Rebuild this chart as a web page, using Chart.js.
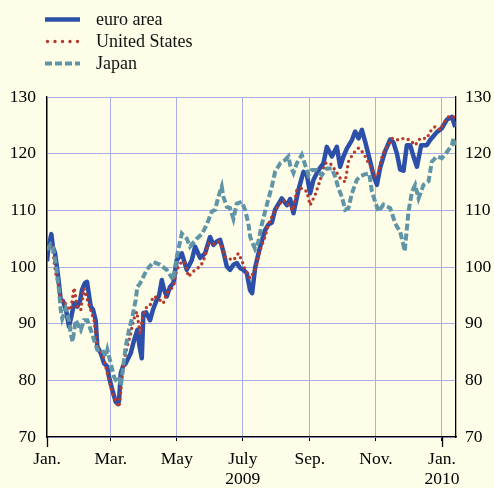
<!DOCTYPE html>
<html>
<head>
<meta charset="utf-8">
<script src="https://cdn.jsdelivr.net/npm/chart.js@4.4.1/dist/chart.umd.min.js"></script>
<style>
html,body{margin:0;padding:0;background:#fefde8;}
#wrap{width:494px;height:488px;position:relative;}
</style>
</head>
<body>
<div id="wrap"><canvas id="c" width="494" height="488"></canvas></div>
<script>
// Series names
const seriesNames = ['euro area', 'United States', 'Japan'];

// x values are days since 1 January 2009
const euroDays = [0,1.4,4,5.5,7.4,9.5,11.1,12.7,14.8,17.6,20.3,22.2,25,28,30.5,32.4,35.1,37,40.4,42.5,45,46.5,49.7,52.7,55.5,57.3,60.4,63.5,65.7,66.6,68.2,70.3,72.8,77.4,80.5,83.5,85.5,87.6,89.1,91.5,95.2,98,101.4,103.6,106.1,108.2,110.7,113.7,116.8,119.9,124.6,129.2,133.8,136.9,141.5,146.1,150.7,153.8,156.9,160,163,166.2,169.2,172.3,175.4,178.5,181.5,184.7,187.7,189.6,192.3,197,201.6,204.6,207.8,210.8,217,221.7,224.7,227.8,232.4,237,240.2,243.2,246.3,250.9,255.5,258.6,263.3,267.9,270.9,274,277.1,281.8,284.8,287.9,291,294.1,298.7,301.7,304.9,307.9,312.6,317.2,320.2,323.4,326.4,329.5,332.6,335.7,338.7,341.9,345.8,351.1,354.1,360.3,365,369.6,374.2,377.3];
const euroValues = [101,103.5,105.8,103.5,102.5,99.5,97,94.2,94,92.4,89.5,91,93.6,93,94,96,97.2,97.4,93,92.5,90.6,86,84.8,83,82.5,80.6,78.3,76.2,75.8,76.5,81.3,82.5,83,84.8,87.1,88.9,86,83.9,91.9,92,90.6,92.5,94.2,95,97.7,96,94.8,96.5,97.2,101.2,102.4,99.5,101.2,103.6,101.6,102.4,105.3,103.9,104.5,104.8,102.7,100.1,99.5,100.4,100.7,99.8,99.5,98.9,95.9,95.4,99.8,103.6,106.5,107.5,107.8,110.1,112.1,110.9,112,109.5,113.6,116.8,116.2,113,115.4,117.1,118.3,121.2,119.5,121.2,117.7,119.5,120.9,122.4,123.9,122.7,124.2,122.1,118.6,116.2,114.5,117.5,120.5,122.5,122,120,117.2,117,121.5,121.5,119.5,117.7,121.5,121.5,122.4,123.8,124.5,126,126.5,124.7];

const usDays = [0.3,4.9,8,11.1,12.7,15.7,18.5,21.9,25,28,31.2,34.2,37.3,40.4,43.5,46.5,51.1,54.3,57.3,60.4,63.5,66.6,68.2,71.2,74.3,77.4,79.8,83,86,88.8,92.2,95.2,98.3,102.6,107.5,110.7,113.7,116.8,119.9,124.6,127.6,130.7,134.1,136.9,141.5,144.5,149.2,153.5,158.4,161.5,164.6,167.7,172.3,176.9,180,183.1,187.7,192.3,197,201.6,204.6,209.3,213.9,218.5,223.1,227.5,230.9,235.5,240.2,243.2,247.8,252.5,257.1,261.7,266.3,270.9,275.6,278.6,283.3,287.9,292.5,295.6,300.3,303.3,306.1,308.9,311.7,315.3,318.8,324.9,329.5,335.7,340.3,344.9,351.1,354.1,358.8,363.4,366.5,371.1,375.7,378.2];
const usValues = [103.3,103.6,98.9,96.5,93.6,94.2,93,92.4,96.3,93,92.4,96.2,94.2,92.4,90.6,86,84.8,82.4,80.1,77.7,76.5,75.3,78.3,83.6,86,88.3,90.6,92.1,88.3,91.5,93,93.2,94.8,94.5,93.6,95.4,96,96.5,99.5,101,100.7,98.3,99,99.5,100.1,101,104.2,104,104.5,103.6,101.8,101.5,101.2,102.4,101.2,99.5,98,99.5,103,105.4,107.5,109.5,110.9,111.8,111,110,113.6,113.9,113.3,110.9,112.7,115.4,118.3,118.3,117.1,115.7,115,118.6,120.1,121,120.1,118.9,117.4,115.9,116.5,119,120.5,121.5,122.7,122.4,122.7,122.4,121.5,122.7,122.7,123.9,124.8,124.2,125.4,126.5,126.5,126.3];

const japanDays = [0,3.4,5.5,8,11.1,12.7,14.1,17.3,20.3,21.9,23.6,26.5,31.2,34.2,37.3,40.4,43.5,46.5,51.1,54.3,55.8,58.9,62,63.5,66.6,68.2,71.2,72.8,75.8,78.9,82,83.5,86,92.2,98.3,104.5,110.7,116.8,119.9,124.6,129.2,132.2,138.4,143.1,147.7,152.3,155.4,158.4,161.5,163,166.2,169.2,172.3,175.4,180,183.1,186.1,187.7,189.3,192.3,195.4,198.5,203.2,207.8,210.8,215.5,220.1,223.1,224.7,227.8,230.9,235.5,238.6,241.6,244.8,249.4,254,258.6,263.3,266.3,269.4,272.5,275.6,278.6,281.8,286.4,289.4,294.1,297.8,300.3,303.3,306.4,311,317.2,321.8,326.4,329.5,330.6,334.1,337.3,340.3,343.4,348,352.6,355.7,360.3,365,369.6,374.2,375.7,377.7];
const japanValues = [103,104,103.5,100.7,95.9,92.4,90.9,92.7,90.6,88.3,86.8,90.6,88.9,90.6,90.6,88.9,87.1,85.4,85.4,84.2,85.4,83,80.6,80.1,80.6,79,83.6,86,88.9,91.2,94.2,96.5,97.1,99.5,100.9,100.4,99.5,97.7,101.8,105.9,105,103.6,105,105.8,107.5,109.8,110.1,112.4,114.2,112.4,110.6,110.4,108.5,111.2,111.5,110.1,107.7,105.4,104.5,103.2,104.5,107.5,111,114.2,116.8,118.3,118.9,119.5,118,116.6,118.3,119.8,118,116.2,117.1,117.1,116.2,117.4,117.4,115.9,113.9,112.4,110.1,110.4,113,115.4,116,116.4,116.5,113.3,111.5,109.8,111,110.4,107.7,106.2,103.8,102.8,109.8,113.3,114.5,112.1,114.5,115.1,118.6,119.5,119.2,120.3,121.5,122.7,121.5];

// Axis ticks
const xTickDays = [0, 59, 120, 181, 243, 304, 365];
const xTickLabels = [['Jan.'], ['Mar.'], ['May'], ['July', '2009'], ['Sep.'], ['Nov.'], ['Jan.', '2010']];
const yMin = 70, yMax = 130, yStep = 10;

const toPoints = (xs, ys) => xs.map((x, i) => ({x: x, y: ys[i]}));

const GRID = '#a9aee4';
const TEXT = '#000000';
const FONT = 'Liberation Serif';

const bgPlugin = {
  id: 'bg',
  beforeDraw(chart) {
    const ctx = chart.ctx;
    ctx.save();
    ctx.fillStyle = '#fefde8';
    ctx.fillRect(0, 0, chart.width, chart.height);
    ctx.restore();
  }
};

const yearTickPlugin = {
  id: 'yearTicks',
  afterDraw(chart) {
    const ctx = chart.ctx, xs = chart.scales.x, bottom = chart.chartArea.bottom;
    ctx.save();
    ctx.strokeStyle = '#000';
    ctx.lineWidth = 1.3;
    [xTickDays[0], xTickDays[xTickDays.length - 1]].forEach(d => {
      const px = Math.round(xs.getPixelForValue(d)) + 0.5;
      ctx.beginPath(); ctx.moveTo(px, bottom); ctx.lineTo(px, bottom + 10); ctx.stroke();
    });
    ctx.restore();
  }
};

const legendPlugin = {
  id: 'stackLegend',
  afterDraw(chart) {
    const ctx = chart.ctx;
    chart.data.datasets.forEach((ds, i) => {
      const y = 19.5 + 22 * i;
      ctx.save();
      ctx.strokeStyle = ds.borderColor;
      ctx.lineWidth = ds.borderWidth;
      ctx.setLineDash(ds.legendDash || ds.borderDash || []);
      ctx.lineCap = ds.borderCapStyle || 'butt';
      ctx.beginPath();
      ctx.moveTo(ds.borderCapStyle === 'round' ? 47.5 : 45, y);
      ctx.lineTo(80, y);
      ctx.stroke();
      ctx.setLineDash([]);
      ctx.fillStyle = '#111';
      ctx.font = '18px "' + FONT + '"';
      ctx.textBaseline = 'middle';
      ctx.fillText(ds.label, 96, y + 1);
      ctx.restore();
    });
  }
};

new Chart(document.getElementById('c'), {
  type: 'line',
  data: {
    datasets: [
      {
        label: seriesNames[0],
        data: toPoints(euroDays, euroValues),
        borderColor: '#2c4fa9',
        borderWidth: 4.5,
        borderJoinStyle: 'round',
        borderCapStyle: 'butt',
        pointRadius: 0,
        tension: 0,
        order: 3
      },
      {
        label: seriesNames[1],
        data: toPoints(usDays, usValues),
        borderColor: '#b63a2c',
        borderWidth: 3.4,
        borderDash: [0, 5.5],
        legendDash: [0, 7.5],
        borderCapStyle: 'round',
        pointRadius: 0,
        tension: 0,
        order: 2
      },
      {
        label: seriesNames[2],
        data: toPoints(japanDays, japanValues),
        borderColor: '#5f95a6',
        borderWidth: 4,
        borderDash: [7, 3],
        borderCapStyle: 'butt',
        pointRadius: 0,
        tension: 0,
        order: 1
      }
    ]
  },
  options: {
    responsive: false,
    animation: false,
    layout: {padding: {top: 97, left: 0, right: 0, bottom: 0}},
    plugins: {legend: {display: false}, tooltip: {enabled: false}},
    scales: {
      x: {
        type: 'linear',
        min: 0,
        max: 378,
        afterBuildTicks: (scale) => { scale.ticks = xTickDays.map(v => ({value: v})); },
        afterFit: (scale) => { scale.height = 51; },
        ticks: {
          autoSkip: false,
          maxRotation: 0,
          padding: 8,
          color: TEXT,
          font: {family: FONT, size: 17.5, lineHeight: 1.15},
          callback: (v) => { const i = xTickDays.indexOf(v); return i >= 0 ? xTickLabels[i] : ''; }
        },
        grid: {color: GRID, lineWidth: 1, tickColor: '#000', tickLength: 4, drawTicks: true},
        border: {display: true, color: '#000', width: 1.3}
      },
      y: {
        position: 'left',
        min: yMin,
        max: yMax,
        afterFit: (scale) => { scale.width = 47; },
        ticks: {stepSize: yStep, padding: 11, color: TEXT, font: {family: FONT, size: 17.5}},
        grid: {color: GRID, lineWidth: 1, drawTicks: false},
        border: {display: true, color: '#000', width: 1.3}
      },
      y2: {
        position: 'right',
        min: yMin,
        max: yMax,
        afterFit: (scale) => { scale.width = 38; },
        ticks: {stepSize: yStep, padding: 9, color: TEXT, font: {family: FONT, size: 17.5}},
        grid: {drawOnChartArea: false, drawTicks: false},
        border: {display: true, color: '#000', width: 1.3}
      }
    }
  },
  plugins: [bgPlugin, yearTickPlugin, legendPlugin]
});
</script>
</body>
</html>
